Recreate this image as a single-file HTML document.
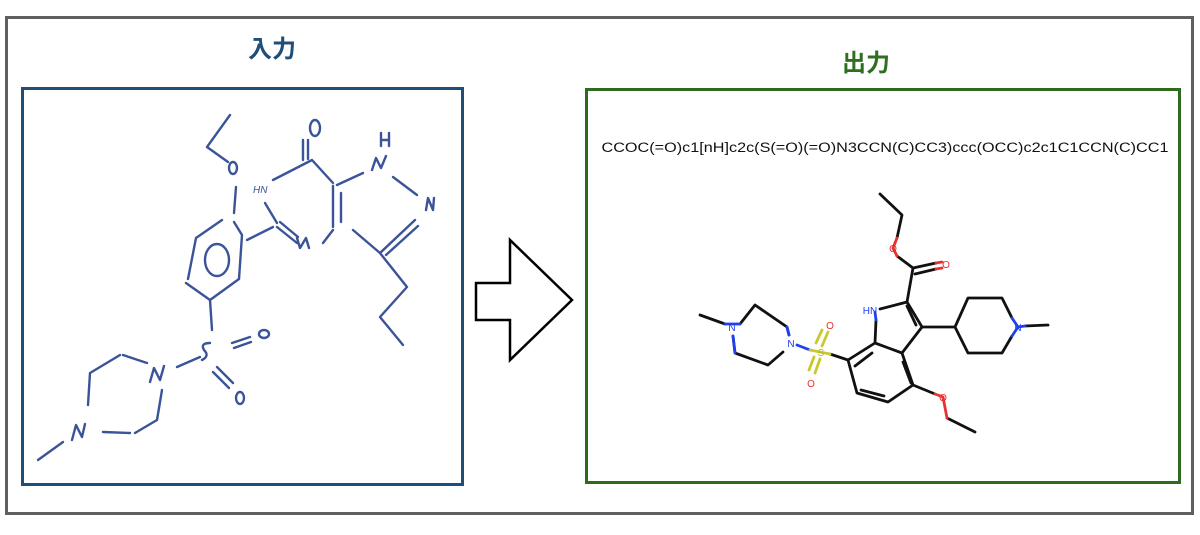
<!DOCTYPE html>
<html><head><meta charset="utf-8"><style>
html,body{margin:0;padding:0;background:#fff;width:1200px;height:535px;overflow:hidden}
svg{display:block}
</style></head><body>
<svg width="1200" height="535" viewBox="0 0 1200 535" xmlns="http://www.w3.org/2000/svg">
<rect x="6.5" y="17.5" width="1186" height="496" fill="none" stroke="#5f5f5f" stroke-width="3"/>
<text x="272" y="57" text-anchor="middle" font-family="'Liberation Sans','Noto Sans CJK JP',sans-serif" font-weight="bold" font-size="24" fill="#1f4e79">入力</text>
<text x="866" y="71" text-anchor="middle" font-family="'Liberation Sans','Noto Sans CJK JP',sans-serif" font-weight="bold" font-size="24" fill="#2e7020">出力</text>
<rect x="22.5" y="88.5" width="440" height="396" fill="none" stroke="#1f4e79" stroke-width="3"/>
<rect x="586.5" y="89.5" width="593" height="393" fill="none" stroke="#2e6b1f" stroke-width="3"/>
<polygon points="476,283 510,283 510,240 572,300 510,360 510,320 476,320" fill="#fff" stroke="#000" stroke-width="2.5" stroke-linejoin="miter"/>
<text x="885" y="152" text-anchor="middle" style="font-family:'Liberation Sans',Arial,sans-serif" font-size="13.5" fill="#111" textLength="567" lengthAdjust="spacingAndGlyphs">CCOC(=O)c1[nH]c2c(S(=O)(=O)N3CCN(C)CC3)ccc(OCC)c2c1C1CCN(C)CC1</text>

<!-- sketch -->
<g fill="none" stroke="#3b5499" stroke-width="2.4" stroke-linecap="round" stroke-linejoin="round">
<path d="M230 115 L207 147 L228 162"/>
<ellipse cx="233" cy="168" rx="4" ry="6"/>
<path d="M236 187 L234 213"/>
<path d="M222 220 L196 238 L188 279 M186 283 L210 300 L239 279 L242 235 L234 222"/>
<ellipse cx="217" cy="260" rx="12" ry="16"/>
<path d="M247 240 L273 227"/>
<text x="253" y="193" font-family="'Liberation Sans',sans-serif" font-size="10" fill="#3b5499" stroke="none" font-style="italic">HN</text>
<path d="M265 203 L277 223"/>
<path d="M277 227 L297 243 M280 222 L298 237"/>
<path d="M297 238 L300 248 L306 238 L309 248"/>
<path d="M323 243 L333 230"/>
<path d="M333 186 L333 227 M341 193 L341 222"/>
<path d="M333 183 L312 160 L273 180"/>
<path d="M303 140 L303 160 M308 140 L308 159"/>
<ellipse cx="315" cy="128" rx="5" ry="8"/>
<path d="M337 185 L363 173"/>
<path d="M372 170 L376 158 L381 168 L386 156"/>
<path d="M381 133 L381 146 M389 133 L389 146 M381 140 L389 140"/>
<path d="M393 177 L417 195"/>
<path d="M426 210 L428 198 L433 210 L434 198"/>
<path d="M415 220 L380 253 M418 226 L386 255"/>
<path d="M353 230 L380 253 L407 287 L380 317 L403 345"/>
<path d="M210 300 L212 330"/>
<path d="M210 343 Q200 343 204 350 Q210 356 202 360"/>
<path d="M232 343 L250 337 M234 348 L251 342"/>
<ellipse cx="264" cy="334" rx="5" ry="4"/>
<path d="M217 367 L233 383 M213 372 L229 388"/>
<ellipse cx="240" cy="398" rx="4" ry="6"/>
<path d="M200 357 L177 367"/>
<path d="M150 382 L154 368 L160 380 L164 366"/>
<path d="M147 363 L123 355 M120 355 L90 373 L88 405"/>
<path d="M72 440 L76 425 L82 437 L85 424"/>
<path d="M103 432 L130 433 M135 433 L157 420 L162 390"/>
<path d="M63 442 L38 460"/>
</g>

<!-- output molecule -->
<g fill="none" stroke="#111" stroke-width="2.8" stroke-linecap="round" stroke-linejoin="round">
<path d="M880 194 L902 215 L897 238"/>
<path d="M897 256 L913 268 L907 302"/>
<path d="M913 268 L936 263 M915 274 L936 269"/>
<path d="M907 302 L922 327 L902 353 L875 343 L876 320"/>
<path d="M907 306 L916 325"/>
<path d="M907 302 L880 309"/>
<path d="M902 353 L913 385 L888 402 L857 393 L848 360 L875 343"/>
<path d="M903 362 L911 383 M884 396 L861 390 M855 366 L872 353"/>
<path d="M922 327 L955 327 L968 298 L1002 298 L1012 318 M1012 336 L1002 353 L968 353 L955 327"/>
<path d="M1025 326 L1048 325"/>
<path d="M913 385 L935 394"/>
<path d="M947 418 L975 432"/>
<path d="M848 360 L830 354"/>
<path d="M700 315 L725 324 M740 324 L755 305 L787 327 L789 335 M783 352 L768 365 L735 353 L733 336"/>
</g>
<g fill="none" stroke-width="2.8" stroke-linecap="round">
<path d="M897 238 L893 248 L897 256" stroke="#e83030"/>
<path d="M936 263 L942 262 M936 269 L942 268" stroke="#e83030"/>
<path d="M935 394 L943 397 L947 418" stroke="#e83030"/>
<path d="M797 345 L810 350" stroke="#2040f0"/>
<path d="M810 350 L830 354" stroke="#c8c830"/>
<path d="M816 343 L822 330 M822 346 L828 332" stroke="#c8c830"/>
<path d="M814 357 L809 370 M820 359 L815 373" stroke="#c8c830"/>
<path d="M725 324 L740 324 M787 327 L789 335 M733 336 L735 353" stroke="#2040f0"/>
<path d="M1012 318 L1018 327 L1012 336 M1018 327 L1025 326" stroke="#2040f0"/>
<path d="M876 320 L875 312" stroke="#2040f0"/>
</g>
<g font-family="'Liberation Sans',sans-serif" font-size="10" text-anchor="middle">
<text x="893" y="252" fill="#e83030">O</text>
<text x="946" y="268" fill="#e83030">O</text>
<text x="943" y="401" fill="#e83030">O</text>
<text x="830" y="329" fill="#e83030">O</text>
<text x="811" y="387" fill="#e83030">O</text>
<text x="821" y="356" fill="#b8b820">S</text>
<text x="870" y="314" fill="#2040f0">HN</text>
<text x="791" y="347" fill="#2040f0">N</text>
<text x="732" y="331" fill="#2040f0">N</text>
<text x="1018" y="331" fill="#2040f0">N</text>
</g>
</svg>
</body></html>
